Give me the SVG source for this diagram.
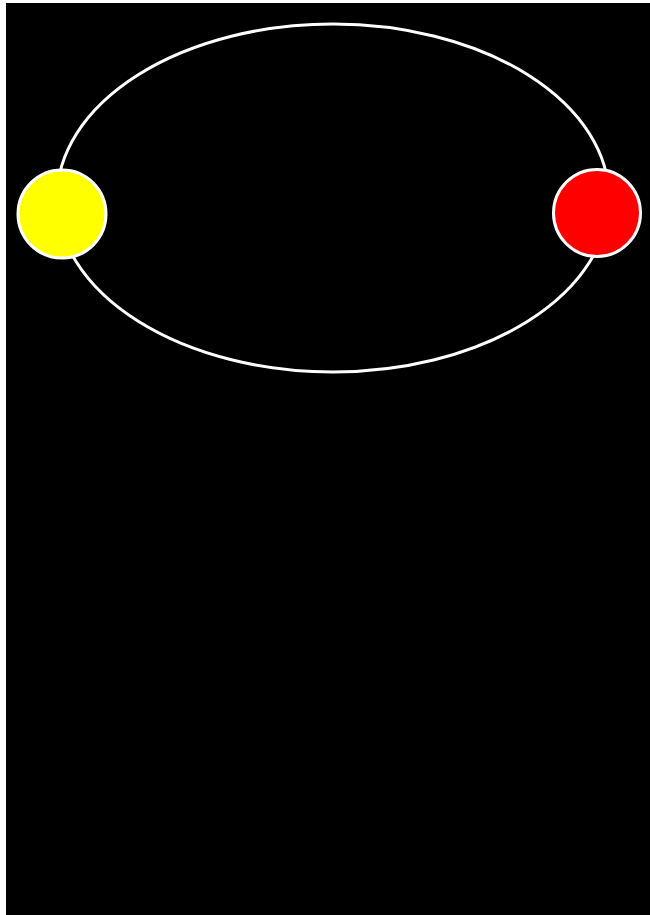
<svg xmlns="http://www.w3.org/2000/svg" width="650" height="915" viewBox="0 0 650 915">
<style>
.orbit{fill:none;stroke:#fff;stroke-width:3}
.body{stroke:#fff;stroke-width:3}
</style>
<rect x="0" y="0" width="650" height="915" fill="#fff"/>
<rect x="6" y="3" width="644" height="912" fill="#000"/>
<g id="connectors">
<ellipse class="orbit" cx="333" cy="198" rx="276" ry="174"/>
</g>
<g id="yellow"><circle class="body" cx="62" cy="214" r="44" fill="#ffff00"/></g>
<g id="red"><circle class="body" cx="597" cy="213" r="43.5" fill="#ff0000"/></g>
</svg>
